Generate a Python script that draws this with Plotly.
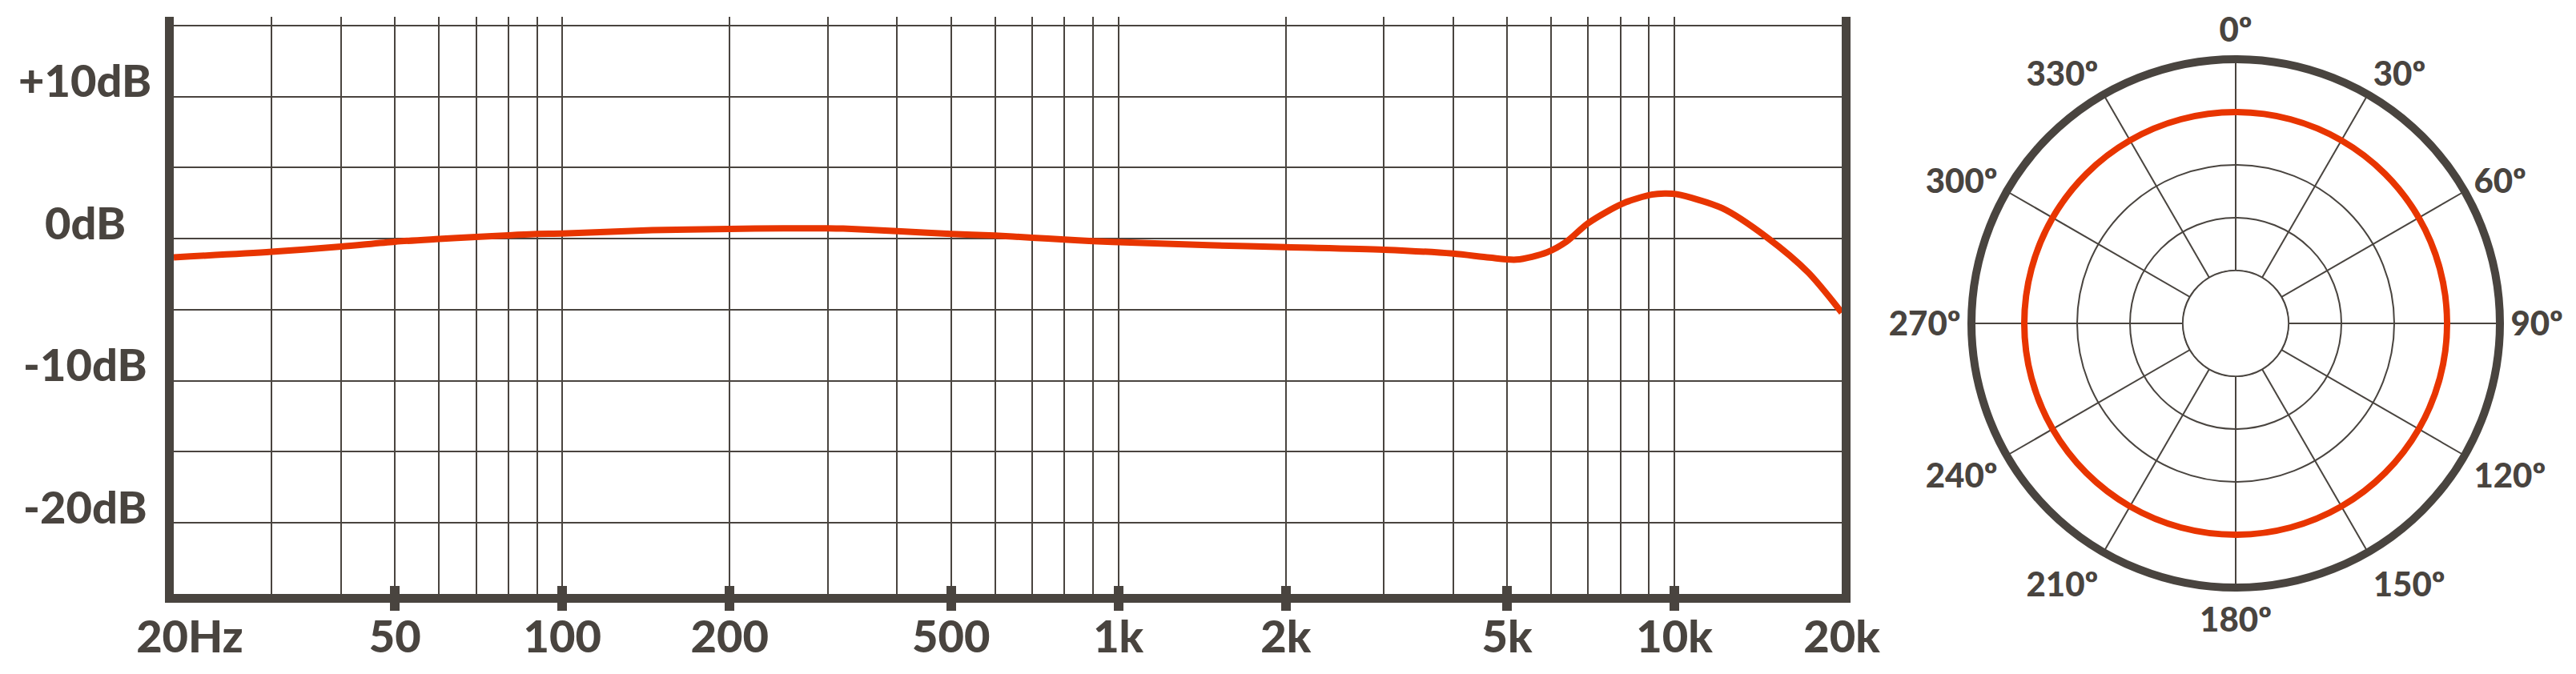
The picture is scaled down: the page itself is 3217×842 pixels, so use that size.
import math
import plotly.graph_objects as go

# frequency response (Hz, dB)
freq_hz = [20, 30, 40, 50, 60, 70, 80, 90, 100, 145, 200, 250, 300, 320, 400, 500,
           600, 700, 800, 900, 1000, 1450, 2000, 3000, 4000, 4650, 5200, 5900, 6400,
           7000, 8100, 9100, 9600, 10100, 12200, 14700, 17400, 20000]
level_db = [-1.31, -0.92, -0.55, -0.21, -0.02, 0.13, 0.24, 0.34, 0.36, 0.60, 0.69, 0.73,
            0.73, 0.71, 0.53, 0.34, 0.22, 0.07, -0.06, -0.17, -0.24, -0.45, -0.60, -0.77,
            -1.05, -1.33, -1.47, -0.96, -0.20, 1.10, 2.50, 3.10, 3.18, 3.13, 2.14, 0.07,
            -2.37, -5.20]

grid_freqs = [30, 40, 50, 60, 70, 80, 90, 100, 200, 300, 400, 500, 600, 700, 800, 900,
              1000, 2000, 3000, 4000, 5000, 6000, 7000, 8000, 9000, 10000]
tick_freqs = [50, 100, 200, 500, 1000, 2000, 5000, 10000]
label_freqs = [20, 50, 100, 200, 500, 1000, 2000, 5000, 10000, 20000]
label_freq_text = ['\u00a0\u00a0\u00a020Hz', '50', '100', '200', '500', '1k', '2k', '5k', '10k', '20k']

db_grid = [-20, -15, -10, -5, 0, 5, 10, 15]
db_labels = [10, 0, -10, -20]
db_label_text = ['+10dB', '0dB', '-10dB', '-20dB']
db_range = [-25, 15.6]

# polar pattern (omnidirectional), level on the 0..5 ring scale
polar_angles = [0, 15, 30, 45, 60, 75, 90, 105, 120, 135, 150, 165, 180, 195, 210, 225,
                240, 255, 270, 285, 300, 315, 330, 345, 360]
polar_level = [4, 4, 4, 4, 4, 4, 4, 4, 4, 4, 4, 4, 4, 4, 4, 4, 4, 4, 4, 4, 4, 4, 4, 4, 4]
inner_ring = [1, 1, 1, 1, 1, 1, 1, 1, 1, 1, 1, 1, 1, 1, 1, 1, 1, 1, 1, 1, 1, 1, 1, 1, 1]
angle_ticks = [0, 30, 60, 90, 120, 150, 180, 210, 240, 270, 300, 330]
angle_text = ['0º', '30º', '60º', '90º', '120º', '150º', '180º', '210º', '240º', '270º', '300º', '330º']
ring_values = [1, 2, 3, 4]

W, H = 3217, 842
INK = '#49443f'
RED = '#e83500'
FONT = 'Lato'

fig = go.Figure()

fig.add_trace(go.Scatter(
    x=freq_hz,
    y=level_db,
    mode='lines',
    line=dict(color=RED, width=8, shape='spline', smoothing=0.8),
    showlegend=False,
    hoverinfo='skip'
))

# empty traces so the tick-only overlay axes exist
fig.add_trace(go.Scatter(x=[], y=[], xaxis='x2', showlegend=False))
fig.add_trace(go.Scatter(x=[], y=[], xaxis='x3', showlegend=False))

# white centre disc: spokes stop at the innermost ring
fig.add_trace(go.Scatterpolar(
    r=inner_ring,
    theta=polar_angles,
    mode='lines',
    fill='toself',
    fillcolor='white',
    line=dict(color=INK, width=1.6, shape='spline'),
    showlegend=False,
    hoverinfo='skip'
))

fig.add_trace(go.Scatterpolar(
    r=polar_level,
    theta=polar_angles,
    mode='lines',
    line=dict(color=RED, width=8, shape='spline'),
    showlegend=False,
    hoverinfo='skip'
))

x_dom = [217 / W, 2300 / W]
x_rng = [math.log10(20), math.log10(20000)]
tick_font = dict(family=FONT, size=56, color=INK, weight=900)

fig.update_layout(
    width=W,
    height=H,
    margin=dict(l=0, r=0, t=0, b=0, autoexpand=False),
    paper_bgcolor='white',
    plot_bgcolor='white',
    xaxis=dict(
        type='log', range=x_rng, domain=x_dom, automargin=False,
        tickmode='array', tickvals=label_freqs, ticktext=label_freq_text,
        ticks='', tickfont=tick_font, ticklabelstandoff=-5,
        showgrid=True, gridcolor=INK, gridwidth=2,
        minor=dict(tickmode='array', tickvals=grid_freqs, showgrid=True,
                   gridcolor=INK, gridwidth=2, ticks=''),
        showline=True, linecolor=INK, linewidth=11, zeroline=False,
    ),
    xaxis2=dict(
        type='log', range=x_rng, domain=x_dom, overlaying='x', anchor='y',
        automargin=False,
        tickmode='array', tickvals=tick_freqs, ticks='inside', ticklen=10,
        tickwidth=12, tickcolor=INK, showticklabels=False, showgrid=False,
        showline=False, zeroline=False,
    ),
    xaxis3=dict(
        type='log', range=x_rng, domain=x_dom, overlaying='x', anchor='y',
        automargin=False,
        tickmode='array', tickvals=tick_freqs, ticks='outside', ticklen=20,
        tickwidth=12, tickcolor=INK, showticklabels=False, showgrid=False,
        showline=False, zeroline=False,
    ),
    yaxis=dict(
        range=db_range, domain=[1 - 742 / H, 1 - 21.3 / H], automargin=False,
        tickmode='array', tickvals=db_grid, showticklabels=False, ticks='',
        showgrid=True, gridcolor=INK, gridwidth=2, zeroline=False,
        showline=True, linecolor=INK, linewidth=11, mirror=True,
    ),
    polar=dict(
        domain=dict(x=[2462 / W, 3122 / W], y=[108 / H, 768 / H]),
        bgcolor='white',
        radialaxis=dict(range=[0, 5], tickmode='array', tickvals=ring_values,
                        showticklabels=False, ticks='', showline=False,
                        gridcolor=INK, gridwidth=1.6),
        angularaxis=dict(rotation=90, direction='clockwise', tickmode='array',
                         tickvals=angle_ticks, ticktext=angle_text,
                         ticks='outside', ticklen=0, tickcolor='rgba(0,0,0,0)',
                         showline=True, linecolor=INK, linewidth=10,
                         showgrid=True, gridcolor=INK, gridwidth=1.6,
                         tickfont=dict(family=FONT, size=42, color=INK, weight=900)),
    ),
)

for v, txt in zip(db_labels, db_label_text):
    fig.add_annotation(
        x=106 / W, xref='paper', y=v, yref='y', yshift=21,
        text=txt, showarrow=False, xanchor='center', yanchor='middle',
        font=tick_font
    )

# drop the default page margin so the figure sits at the window's corner
fig.write_html("out.html", config={'displayModeBar': False},
               post_script="document.body.style.margin='0';")
